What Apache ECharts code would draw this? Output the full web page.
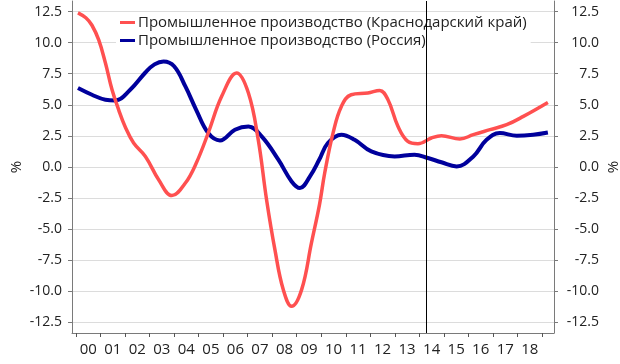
<!DOCTYPE html>
<html>
<head>
<meta charset="utf-8">
<script src="https://cdn.jsdelivr.net/npm/echarts@6/dist/echarts.min.js"></script>
<style>html,body{margin:0;padding:0;background:#fff}#c{width:620px;height:364px}</style>
</head>
<body>
<div id="c"></div>
<script>
// Time in years since start of 2000; values in %
var yearLabels = ['00','01','02','03','04','05','06','07','08','09','10','11','12','13','14','15','16','17','18'];
var yMin = -12.5, yMax = 12.5, yStep = 2.5;

var nameKrasnodar = 'Промышленное производство (Краснодарский край)';
var nameRussia = 'Промышленное производство (Россия)';

var krasT = [0.08,0.4,0.65,0.93,1.2,1.47,1.74,2.0,2.35,2.83,3.37,3.91,4.46,4.9,5.39,5.94,6.55,7.03,7.43,7.77,8.11,8.45,8.79,9.2,9.6,9.93,10.14,10.48,10.82,11.22,11.9,12.38,12.72,13.13,13.53,13.94,14.49,14.9,15.65,16.2,16.88,17.56,18.24,19.24];
var krasV = [12.4,12.0,11.4,10.2,8.36,6.21,4.6,3.26,1.93,0.85,-1.02,-2.3,-1.29,0.3,2.73,5.68,7.56,5.95,2.19,-2.63,-6.65,-9.86,-11.2,-9.86,-6.1,-3.0,-0.48,2.73,4.87,5.81,5.95,6.16,5.41,3.26,2.06,1.87,2.33,2.52,2.25,2.6,3.0,3.4,4.07,5.19];

var rusT = [0.08,0.65,1.2,1.6,2.21,2.83,3.2,3.57,4.0,4.46,4.9,5.39,5.87,6.48,7.03,7.57,8.25,8.79,9.13,9.54,9.92,10.27,10.82,11.36,12.04,12.99,13.8,14.35,14.9,15.52,16.2,16.74,17.28,17.97,18.64,19.24];
var rusV = [6.35,5.81,5.41,5.35,6.21,7.6,8.25,8.49,8.1,6.48,4.6,2.73,2.14,3.0,3.26,2.46,0.59,-1.16,-1.69,-0.75,0.6,1.93,2.6,2.19,1.25,0.85,0.99,0.72,0.38,0.05,0.85,2.19,2.73,2.52,2.6,2.78];

var forecastStart = 14.3;

function zip(a, b) { return a.map(function (t, i) { return [t, b[i]]; }); }

var fontFam = '"Open Sans", "Noto Sans", sans-serif';
var axisGray = '#7a7a7a';
var textCol = '#222';

// Layout: outer frame (axis lines) and inner tick frame
var W = 620, H = 364;
var frameL = 72, frameR = 554, frameT = 1, frameB = 333;
var outerMax = 13.35;
var pxPerUnit = (frameB - frameT) / (2 * outerMax);
var innerPad = (outerMax - yMax) * pxPerUnit;
var catL = 76, catR = 542;
var catW = (catR - catL) / yearLabels.length;

var gridBase = {containLabel: false, outerBoundsMode: 'none'};
function mkGrid(l, r, t, b) {
  return Object.assign({left: l, right: r, top: t, bottom: b}, gridBase);
}

var chart = echarts.init(document.getElementById('c'), null, {renderer: 'canvas'});
chart.setOption({
  animation: false,
  backgroundColor: '#fff',
  textStyle: {fontFamily: fontFam},
  grid: [
    mkGrid(frameL, W - frameR, frameT, H - frameB),
    mkGrid(catL, W - catR, frameT, H - frameB),
    mkGrid(frameL, W - frameR, frameT + innerPad, H - frameB + innerPad)
  ],
  legend: {
    orient: 'vertical', left: 116, top: 13,
    data: [nameKrasnodar, nameRussia],
    icon: 'rect', itemWidth: 15, itemHeight: 3, itemGap: 3,
    padding: [2, 4, 2, 4],
    backgroundColor: '#fff',
    textStyle: {fontSize: 15, color: textCol, fontFamily: fontFam, padding: [0,0,0,-2]}
  },
  xAxis: [
    {
      gridIndex: 0, type: 'value', position: 'bottom',
      min: -(catL - frameL) / catW, max: (frameR - catL) / catW,
      axisLine: {show: true, onZero: false, lineStyle: {color: axisGray, width: 1}},
      axisTick: {show: false}, axisLabel: {show: false}, splitLine: {show: false}
    },
    {
      gridIndex: 1, type: 'category', data: yearLabels, boundaryGap: true, position: 'bottom',
      axisLine: {show: false, onZero: false},
      axisTick: {show: true, interval: 0, length: 4, lineStyle: {color: '#555', width: 1}},
      axisLabel: {interval: 0, margin: 9, fontSize: 15, color: textCol, fontFamily: fontFam},
      splitLine: {show: false}
    },
    {gridIndex: 2, type: 'value', show: false}
  ],
  yAxis: [
    {
      gridIndex: 0, type: 'value', min: -outerMax, max: outerMax, position: 'left',
      name: '%', nameLocation: 'middle', nameGap: 48, nameRotate: 90,
      nameTextStyle: {fontSize: 15, color: textCol, fontFamily: fontFam},
      axisLine: {show: true, onZero: false, lineStyle: {color: axisGray}},
      axisTick: {show: false}, axisLabel: {show: false}, splitLine: {show: false}
    },
    {
      gridIndex: 0, type: 'value', min: -outerMax, max: outerMax, position: 'right',
      name: '%', nameLocation: 'middle', nameGap: 52, nameRotate: 90,
      nameTextStyle: {fontSize: 15, color: textCol, fontFamily: fontFam},
      axisLine: {show: true, onZero: false, lineStyle: {color: axisGray}},
      axisTick: {show: false}, axisLabel: {show: false}, splitLine: {show: false}
    },
    {gridIndex: 1, type: 'value', show: false},
    {
      gridIndex: 2, type: 'value', min: yMin, max: yMax, interval: yStep, position: 'left',
      axisLine: {show: false, onZero: false},
      axisTick: {show: true, length: 4, lineStyle: {color: axisGray}},
      axisLabel: {margin: 10, fontSize: 14, color: textCol, fontFamily: fontFam,
        formatter: function (v) { return v.toFixed(1); }},
      splitLine: {show: true, lineStyle: {color: '#dcdcdc', width: 1}}
    },
    {
      gridIndex: 2, type: 'value', min: yMin, max: yMax, interval: yStep, position: 'right',
      axisLine: {show: false, onZero: false},
      axisTick: {show: true, length: 4, lineStyle: {color: axisGray}},
      axisLabel: {margin: 45, align: 'right', fontSize: 14, color: textCol, fontFamily: fontFam,
        formatter: function (v) { return v.toFixed(1); }},
      splitLine: {show: false}
    }
  ],
  series: [
    {
      name: nameKrasnodar, type: 'line', xAxisIndex: 0, yAxisIndex: 0,
      smooth: 0.4, showSymbol: false, symbol: 'none', z: 4,
      data: zip(krasT, krasV),
      lineStyle: {color: '#ff5050', width: 3.5}, itemStyle: {color: '#ff5050'},
      markLine: {
        silent: true, symbol: ['none', 'none'], label: {show: false},
        lineStyle: {color: '#000', width: 1, type: 'solid'},
        data: [{xAxis: forecastStart}]
      }
    },
    {
      name: nameRussia, type: 'line', xAxisIndex: 0, yAxisIndex: 0,
      smooth: 0.4, showSymbol: false, symbol: 'none', z: 3,
      data: zip(rusT, rusV),
      lineStyle: {color: '#00009c', width: 4}, itemStyle: {color: '#00009c'}
    }
  ]
});
</script>
</body>
</html>
